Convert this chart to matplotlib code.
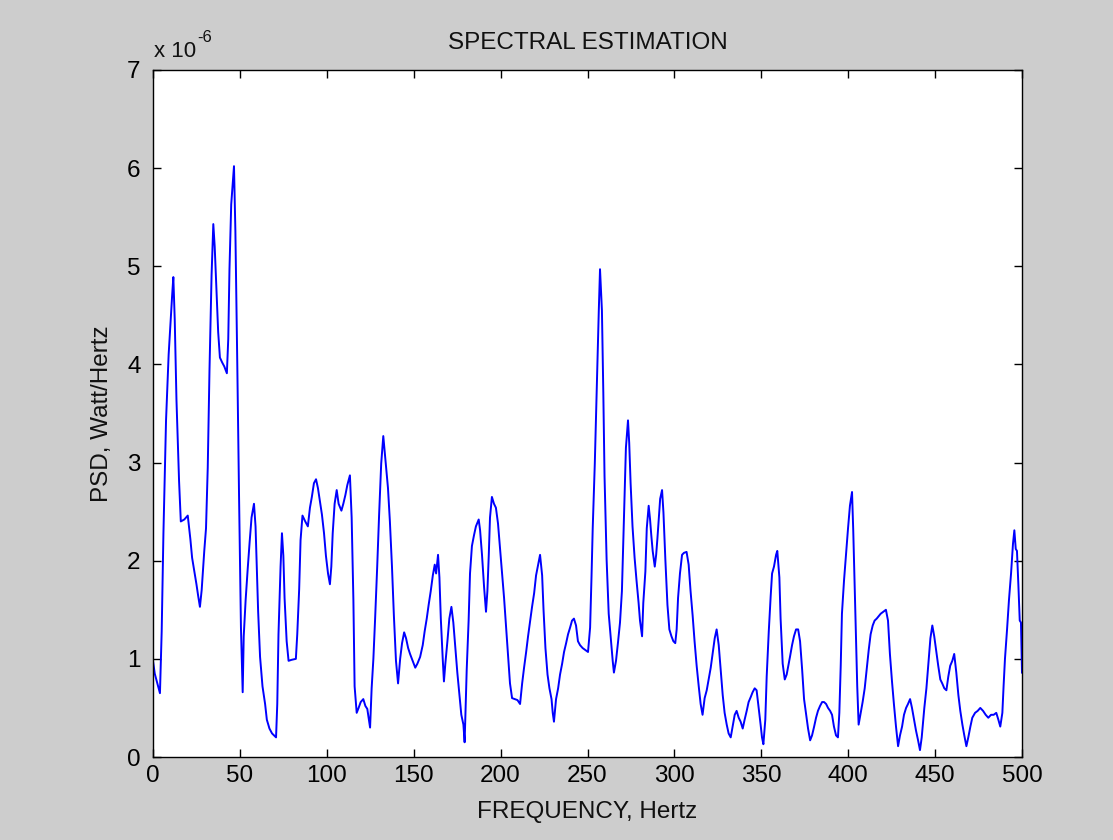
import matplotlib
matplotlib.use("Agg")
import matplotlib.pyplot as plt

# Frequency (Hz) and PSD (x1e-6 Watt/Hertz)
freq = [0, 1, 4, 5, 6, 7.5, 9, 10, 11, 11.7, 12.5, 13.5, 15, 16, 18, 20, 21.5, 22.5, 24, 25,
        26, 27, 28, 29.5, 30.5, 31.5, 32.5, 33.7, 34.7, 35.5, 36.5, 37.5, 38.5, 39.8, 41, 42.5,
        43.3, 44, 45, 46.6, 47.4, 48.5, 49.5, 50.6, 51.6, 52.2, 53.3, 54.5, 55.6, 56.7, 58.1,
        59, 60.5, 61.6, 63, 64.5, 65.5, 67, 68.5, 70.8, 71.5, 72.2, 73.4, 74.2, 75, 75.7, 76.9,
        78, 79.7, 82.2, 83, 84.1, 84.9, 86, 87.6, 89.1, 90.3, 91.4, 92.6, 93.8, 94.9, 96.1,
        97.2, 98.4, 99.5, 100.7, 101.8, 102.6, 103.4, 104.5, 105.7, 106.8, 108.4, 109.5, 110.7,
        111.8, 113.3, 114.3, 115.3, 116, 117.2, 118.3, 119.5, 121, 122.2, 123.3, 124.9, 125.8,
        126.8, 127.8, 129, 130.1, 131.3, 132.5, 133.3, 134, 135.2, 136.3, 137.5, 138.6, 139.8,
        141, 142.2, 143.3, 144.5, 145.6, 146.8, 147.9, 149.4, 150.9, 152.1, 153.7, 155.2, 156.3,
        157.5, 158.6, 159.8, 161, 162.1, 162.9, 164, 164.8, 165.6, 166.7, 167.4, 168.2, 169.4,
        170.5, 171.7, 172.8, 174, 175.1, 176.3, 177.4, 178.6, 179.3, 180.5, 181.6, 182.4, 183.5,
        184.7, 185.8, 187.4, 188.2, 189.3, 190.5, 191.6, 192.4, 193.2, 193.9, 195, 196.2, 197.3,
        198.5, 199.7, 200.8, 202, 203.1, 204.3, 205.4, 206.6, 208.1, 209.7, 211.2, 212.4, 213.5,
        214.7, 215.8, 217, 218.1, 219.3, 220.4, 221.6, 222.7, 223.9, 224.7, 225.8, 227, 228.1,
        229.3, 230, 230.7, 231.9, 233.1, 234.2, 235.4, 236.5, 237.7, 238.8, 240, 241.1, 242.2,
        243.4, 244.5, 245.7, 247.2, 248.8, 250.3, 251.5, 252.3, 253, 254.2, 255.4, 256.5, 257.2,
        258.3, 259.1, 259.8, 261, 262.2, 263.3, 264.5, 265.2, 266.4, 267.5, 268.7, 269.8, 270.6,
        271.4, 272.1, 273.3, 274, 274.8, 275.9, 277.1, 278.2, 279.4, 280.2, 281.4, 282.1, 283.3,
        284.1, 285.2, 286, 286.7, 287.5, 288.7, 289.5, 290.2, 291, 291.8, 292.9, 293.7, 294.8,
        296, 297.1, 298.3, 299.4, 300.5, 301.3, 302.1, 303.2, 304.4, 305.5, 307, 308.2, 309.3,
        310.5, 311.6, 312.8, 314, 315.1, 316.2, 317.4, 318.6, 319.7, 320.9, 322, 323.2, 324.3,
        325.5, 326.6, 327.8, 328.9, 330.1, 331.2, 332.4, 333.5, 334.7, 335.8, 337, 338.1, 339.3,
        340.4, 341.6, 342.7, 343.9, 345, 346.2, 347.3, 348.5, 349.6, 350.4, 351.2, 352.3, 353.1,
        354.3, 355.4, 356.2, 357.3, 358.5, 359.2, 360.4, 361.1, 362.3, 363.5, 364.6, 365.8,
        366.5, 367.7, 368.8, 370, 371.2, 372.3, 373.5, 374.6, 375.8, 376.9, 378.1, 379.2, 380.4,
        381.5, 382.6, 383.8, 385, 386.1, 387.3, 388.4, 389.6, 390.7, 391.8, 393, 394.1, 394.9,
        395.7, 396.4, 397.6, 398.7, 399.9, 401, 402.2, 402.9, 404.1, 405.2, 406, 407.2, 408.3,
        409.5, 410.6, 411.8, 412.9, 414.1, 415.2, 416.4, 418.7, 421.7, 422.9, 424, 425.2, 426.3,
        427.5, 428.7, 429.8, 431, 432.1, 433.3, 434.4, 435.6, 436.7, 437.9, 439, 440.2, 441.3,
        442.3, 443.8, 445, 446.1, 447.3, 448.4, 449.5, 450.7, 451.8, 453, 454.1, 455.3, 456.5,
        457.6, 458.7, 459.9, 461, 462.2, 463.4, 464.5, 465.7, 466.8, 468, 469.1, 470.3, 471.4,
        473, 474.5, 476, 477.6, 479.1, 480.6, 482.2, 483.7, 485.2, 486.4, 487.5, 488.7, 489.4,
        490.2, 491.4, 492.5, 493.7, 494.8, 495.6, 496.4, 497.1, 497.9, 498.7, 499.4, 500]

psd = [0.98, 0.85, 0.65, 1.28, 2.28, 3.43, 4.1, 4.4, 4.7, 4.89, 4.46, 3.64, 2.81, 2.4, 2.42, 2.46,
       2.22, 2.03, 1.87, 1.76, 1.64, 1.53, 1.7, 2.1, 2.33, 2.95, 3.94, 4.91, 5.43, 5.2, 4.76,
       4.33, 4.07, 4.02, 3.98, 3.91, 4.26, 4.97, 5.63, 6.02, 5.36, 4.0, 2.67, 1.32, 0.66, 1.23,
       1.6, 1.92, 2.19, 2.44, 2.58, 2.35, 1.48, 1.02, 0.72, 0.54, 0.38, 0.29, 0.24, 0.2, 0.54,
       1.25, 1.94, 2.28, 2.05, 1.62, 1.18, 0.98, 0.99, 1.0, 1.25, 1.71, 2.21, 2.46, 2.4, 2.35,
       2.54, 2.65, 2.79, 2.83, 2.74, 2.6, 2.47, 2.28, 2.05, 1.87, 1.76, 1.94, 2.28, 2.58, 2.72,
       2.58, 2.51, 2.58, 2.67, 2.77, 2.87, 2.44, 1.6, 0.72, 0.45, 0.5, 0.56, 0.59, 0.52, 0.49,
       0.3, 0.7, 1.0, 1.41, 1.94, 2.47, 2.99, 3.27, 3.11, 2.97, 2.74, 2.4, 1.94, 1.44, 0.98,
       0.75, 1.0, 1.16, 1.27, 1.21, 1.11, 1.05, 0.98, 0.91, 0.95, 1.02, 1.14, 1.28, 1.41, 1.55,
       1.69, 1.85, 1.96, 1.87, 2.06, 1.83, 1.41, 1.0, 0.77, 0.95, 1.18, 1.41, 1.53, 1.37, 1.11,
       0.86, 0.63, 0.43, 0.33, 0.15, 0.89, 1.39, 1.87, 2.15, 2.26, 2.35, 2.42, 2.31, 2.06, 1.73,
       1.48, 1.69, 2.06, 2.44, 2.65, 2.58, 2.54, 2.38, 2.12, 1.87, 1.62, 1.34, 1.05, 0.75, 0.6,
       0.59, 0.58, 0.54, 0.75, 0.91, 1.07, 1.23, 1.39, 1.53, 1.67, 1.85, 1.96, 2.06, 1.85, 1.5,
       1.11, 0.84, 0.7, 0.59, 0.45, 0.36, 0.59, 0.7, 0.84, 0.95, 1.07, 1.16, 1.25, 1.32, 1.39,
       1.41, 1.34, 1.18, 1.14, 1.11, 1.09, 1.07, 1.32, 1.83, 2.33, 2.99, 3.8, 4.55, 4.97, 4.55,
       3.71, 2.86, 2.01, 1.46, 1.23, 0.98, 0.86, 0.98, 1.16, 1.37, 1.69, 2.19, 2.67, 3.15, 3.43,
       3.2, 2.79, 2.35, 2.03, 1.8, 1.57, 1.39, 1.23, 1.57, 1.89, 2.33, 2.56, 2.42, 2.26, 2.1,
       1.94, 2.06, 2.22, 2.42, 2.63, 2.72, 2.49, 2.01, 1.55, 1.3, 1.23, 1.18, 1.16, 1.3, 1.62,
       1.87, 2.06, 2.08, 2.09, 1.96, 1.69, 1.44, 1.18, 0.93, 0.72, 0.54, 0.43, 0.6, 0.68, 0.79,
       0.91, 1.05, 1.21, 1.3, 1.14, 0.89, 0.63, 0.45, 0.33, 0.24, 0.2, 0.31, 0.43, 0.47, 0.4,
       0.36, 0.29, 0.38, 0.47, 0.56, 0.61, 0.66, 0.7, 0.68, 0.5, 0.33, 0.2, 0.13, 0.38, 0.82,
       1.28, 1.64, 1.87, 1.94, 2.06, 2.1, 1.83, 1.41, 0.95, 0.79, 0.84, 0.95, 1.02, 1.14, 1.23,
       1.3, 1.3, 1.18, 0.89, 0.59, 0.43, 0.29, 0.17, 0.22, 0.31, 0.4, 0.47, 0.52, 0.56, 0.56,
       0.54, 0.5, 0.47, 0.43, 0.31, 0.22, 0.2, 0.45, 0.93, 1.46, 1.8, 2.06, 2.33, 2.56, 2.7,
       2.31, 1.5, 0.72, 0.33, 0.45, 0.56, 0.7, 0.89, 1.09, 1.25, 1.34, 1.39, 1.41, 1.46, 1.5,
       1.39, 1.05, 0.77, 0.54, 0.31, 0.11, 0.22, 0.31, 0.43, 0.5, 0.54, 0.59, 0.5, 0.38, 0.27,
       0.17, 0.07, 0.2, 0.5, 0.7, 0.95, 1.21, 1.34, 1.23, 1.07, 0.93, 0.79, 0.75, 0.7, 0.68,
       0.82, 0.93, 0.98, 1.05, 0.86, 0.63, 0.47, 0.33, 0.22, 0.11, 0.2, 0.31, 0.4, 0.45, 0.47,
       0.5, 0.47, 0.43, 0.4, 0.43, 0.43, 0.45, 0.38, 0.31, 0.45, 0.72, 1.0, 1.3, 1.6, 1.87,
       2.17, 2.31, 2.12, 2.1, 1.76, 1.39, 1.37, 0.86]

xticks = [0, 50, 100, 150, 200, 250, 300, 350, 400, 450, 500]
yticks = [0, 1, 2, 3, 4, 5, 6, 7]

FONT = "Liberation Sans"
plt.rcParams["font.family"] = [FONT, "DejaVu Sans"]

bg = "#cdcdcd"
fig = plt.figure(figsize=(11.13, 8.40), dpi=100, facecolor=bg)
ax = fig.add_axes([153/1113, 1 - 757/840, (1022 - 153)/1113, (757 - 70)/840])
ax.set_facecolor("white")

ax.plot(freq, psd, color="#0000ff", linewidth=1.4)

ax.set_xlim(0, 500)
ax.set_ylim(0, 7)
ax.set_xticks(xticks)
ax.set_yticks(yticks)
ax.set_xticklabels([str(t) for t in xticks])
ax.set_yticklabels([str(t) for t in yticks])

fs = 17.5
ax.tick_params(axis="both", direction="in", length=6, width=1.0, colors="black",
               labelsize=fs, top=True, right=True)
ax.tick_params(axis="x", pad=6)
ax.tick_params(axis="y", pad=9)
for s in ax.spines.values():
    s.set_linewidth(1.0)
    s.set_color("black")

ax.set_title("SPECTRAL ESTIMATION", fontsize=fs, pad=15, color="#111111")
ax.set_xlabel("FREQUENCY, Hertz", fontsize=fs, labelpad=10, color="#111111")
ax.set_ylabel("PSD, Watt/Hertz", fontsize=fs, labelpad=10, color="#111111")

# exponent label "x 10^-6" above the y axis
ax.annotate("x 10", xy=(0, 1), xycoords="axes fraction", xytext=(1, 6),
            textcoords="offset points", ha="left", va="bottom", fontsize=fs - 1.5,
            color="#111111")
ax.annotate("-6", xy=(0, 1), xycoords="axes fraction", xytext=(32, 18),
            textcoords="offset points", ha="left", va="bottom", fontsize=fs - 5.5,
            color="#111111")

fig.savefig("out.png", dpi=100, facecolor=bg)
